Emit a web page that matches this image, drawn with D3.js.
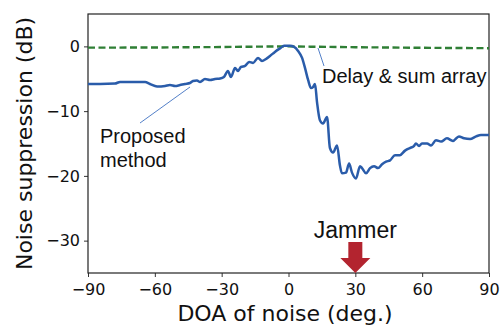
<!DOCTYPE html>
<html><head><meta charset="utf-8">
<script src="https://cdn.jsdelivr.net/npm/d3@7"></script>
<style>html,body{margin:0;padding:0;background:#fff;}svg{display:block;}</style>
</head><body>
<svg id="c" width="502" height="327"></svg>
<script>
// ---- data ----
const proposedDeg = [-90,-84.6,-77.9,-75.6,-71.1,-64.4,-62.2,-59.0,-55.4,-53.2,-50.9,-48.7,-46.5,-44.2,-42.9,-41.1,-39.7,-37.5,-35.2,-33.0,-30.7,-29.0,-27.2,-25.8,-24.0,-22.7,-21.3,-19.5,-17.7,-15.9,-13.7,-11.9,-10.1,-8.3,-6.1,-3.8,-2.0,0.7,2.5,4.3,6.1,7.4,8.8,10.1,11.0,11.9,12.8,14.1,15.5,17.3,18.6,20.0,21.8,23.1,24.0,25.8,27.2,28.5,30.3,32.1,33.0,34.8,36.6,38.4,40.2,42.0,43.8,45.6,47.8,50.0,52.3,54.5,56.3,57.2,58.6,59.9,62.2,64.0,66.2,68.5,71.1,73.8,76.5,78.8,81.5,84.2,86.4,90];
const proposedDb = [-5.81,-5.81,-5.74,-5.5,-5.5,-5.5,-5.81,-6.2,-6.12,-5.97,-6.12,-5.97,-5.81,-5.66,-5.35,-5.27,-5.5,-5.04,-5.19,-5.04,-4.96,-4.73,-3.8,-4.73,-3.33,-3.8,-3.18,-3.02,-2.4,-2.56,-1.78,-2.25,-1.94,-1.47,-0.85,-0.31,0.08,0.08,-0.08,-0.7,-1.78,-3.33,-5.19,-6.43,-6.28,-5.81,-8.6,-11.4,-11.9,-10.9,-15.7,-16.4,-15.3,-18.4,-19.6,-19.5,-18.1,-19.5,-20.4,-18.5,-18.8,-19.6,-18.8,-18.5,-18.8,-18.2,-17.8,-17.6,-16.8,-16.8,-16.1,-15.7,-15.4,-15.0,-15.4,-15.0,-15.0,-15.3,-14.5,-14.7,-14.2,-14.6,-13.9,-14.2,-14.3,-13.9,-13.7,-13.7];
const delaySumDeg = [-90,-60,-30,-10,0,10,30,60,90];
const delaySumDb  = [-0.2,-0.17,-0.1,-0.03,0,-0.05,-0.13,-0.22,-0.28];
const xTicks = [-90,-60,-30,0,30,60,90];
const yTicks = [-30,-20,-10,0];
const jammerDeg = 30;

// ---- layout ----
const svg = d3.select("#c");
const L = 88, R = 489, T = 14, B = 273;
const x = d3.scaleLinear().domain([-90, 90]).range([L, R]);
const y = d3.scaleLinear().domain([-35, 5]).range([B, T]);
const fmt = d => d < 0 ? "\u2212" + Math.abs(d) : String(d);

// axes
const gx = svg.append("g").attr("transform", `translate(0,${B})`)
  .call(d3.axisBottom(x).tickValues(xTicks).tickFormat(fmt).tickSize(4).tickPadding(3));
const gy = svg.append("g").attr("transform", `translate(${L},0)`)
  .call(d3.axisLeft(y).tickValues(yTicks).tickFormat(fmt).tickSize(4).tickPadding(4));
[gx, gy].forEach(g => {
  g.select(".domain").remove();
  g.selectAll("line").attr("stroke", "#333").attr("stroke-width", 1);
  g.selectAll("text").attr("font-family", "DejaVu Sans").attr("font-size", 16).attr("fill", "#111");
});
gx.selectAll("text").attr("dy", "0.95em");
// frame
svg.append("rect").attr("x", L).attr("y", T).attr("width", R - L).attr("height", B - T)
  .attr("fill", "none").attr("stroke", "#222").attr("stroke-width", 1.2);

// lines
const line = d3.line().x(d => x(d[0])).y(d => y(d[1]));
svg.append("path").datum(delaySumDeg.map((d, i) => [d, delaySumDb[i]]))
  .attr("d", line).attr("fill", "none").attr("stroke", "#2f7f35").attr("stroke-width", 2.4)
  .attr("stroke-dasharray", "7,3.5");
svg.append("path").datum(proposedDeg.map((d, i) => [d, proposedDb[i]]))
  .attr("d", d3.line().x(d => x(d[0])).y(d => y(d[1])).curve(d3.curveMonotoneX))
  .attr("fill", "none").attr("stroke", "#2a5caa").attr("stroke-width", 2.5)
  .attr("stroke-linejoin", "round");

// annotations
svg.append("line").attr("x1", 140).attr("y1", 123).attr("x2", 190).attr("y2", 87)
  .attr("stroke", "#3f72c2").attr("stroke-width", 0.9);
svg.append("line").attr("x1", 318).attr("y1", 48).attr("x2", 324).attr("y2", 66)
  .attr("stroke", "#3f72c2").attr("stroke-width", 0.9);
const ann = svg.append("g").attr("font-family", "Liberation Sans, Arial").attr("font-size", 20).attr("fill", "#111");
ann.append("text").attr("x", 100).attr("y", 143).text("Proposed");
ann.append("text").attr("x", 100).attr("y", 167).text("method");
ann.append("text").attr("x", 322).attr("y", 83).text("Delay & sum array");
ann.append("text").attr("x", x(jammerDeg)).attr("y", 238).attr("text-anchor", "middle")
  .attr("font-size", 23).text("Jammer");

// jammer arrow
const ax = x(jammerDeg), tip = y(-35);
svg.append("path")
  .attr("d", `M${ax-7},${tip-31} L${ax+7},${tip-31} L${ax+7},${tip-15} L${ax+15},${tip-15} L${ax},${tip} L${ax-15},${tip-15} L${ax-7},${tip-15} Z`)
  .attr("fill", "#b3242f");

// axis titles
svg.append("text").attr("x", 285).attr("y", 321).attr("text-anchor", "middle")
  .attr("font-family", "DejaVu Sans").attr("font-size", 22).attr("fill", "#111").text("DOA of noise (deg.)");
svg.append("text").attr("transform", `translate(32,${(T + B) / 2}) rotate(-90)`).attr("text-anchor", "middle")
  .attr("font-family", "DejaVu Sans").attr("font-size", 22).attr("fill", "#111").text("Noise suppression (dB)");
</script>
</body></html>
